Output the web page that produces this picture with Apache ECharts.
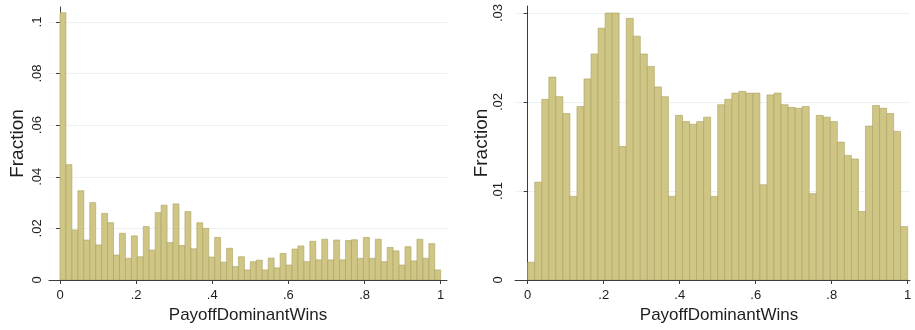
<!DOCTYPE html>
<html>
<head>
<meta charset="utf-8">
<script src="https://cdn.jsdelivr.net/npm/echarts@6/dist/echarts.min.js"></script>
<style>
html,body{margin:0;padding:0;background:#fff;}
#chart{width:915px;height:330px;}
</style>
</head>
<body>
<div id="chart"></div>
<script>
// Left histogram: 64 equal bins over [0,1]
const leftValues = [
  0.1036, 0.0447, 0.0194, 0.0346, 0.0155, 0.0300, 0.0136, 0.0258,
  0.0222, 0.0097, 0.0181, 0.0084, 0.0171, 0.0090, 0.0207, 0.0116,
  0.0261, 0.0290, 0.0145, 0.0295, 0.0134, 0.0265, 0.0121, 0.0222,
  0.0200, 0.0089, 0.0165, 0.0069, 0.0123, 0.0052, 0.0090, 0.0039,
  0.0071, 0.0077, 0.0039, 0.0085, 0.0047, 0.0103, 0.0058, 0.0120,
  0.0132, 0.0071, 0.0150, 0.0078, 0.0158, 0.0078, 0.0155, 0.0078,
  0.0153, 0.0156, 0.0084, 0.0165, 0.0084, 0.0158, 0.0071, 0.0126,
  0.0113, 0.0058, 0.0129, 0.0074, 0.0158, 0.0084, 0.0141, 0.0039
];
// Right histogram: 54 equal bins over [0,1]
const rightValues = [
  0.0020, 0.0110, 0.0203, 0.0228, 0.0206, 0.0187, 0.0094, 0.0195, 0.0226,
  0.0254, 0.0283, 0.0300, 0.0300, 0.0150, 0.0294, 0.0274, 0.0254, 0.0240,
  0.0217, 0.0206, 0.0094, 0.0185, 0.0178, 0.0175, 0.0178, 0.0183, 0.0094,
  0.0197, 0.0203, 0.0210, 0.0212, 0.0210, 0.0210, 0.0107, 0.0208, 0.0210,
  0.0197, 0.0194, 0.0193, 0.0195, 0.0097, 0.0185, 0.0183, 0.0178, 0.0155,
  0.0140, 0.0136, 0.0077, 0.0173, 0.0196, 0.0193, 0.0187, 0.0167, 0.0060
];
const binRange = [0, 1];
const xTickValues = [0, 0.2, 0.4, 0.6, 0.8, 1];
const xTickLabels = ['0', '.2', '.4', '.6', '.8', '1'];
const leftYTickValues = [0, 0.02, 0.04, 0.06, 0.08, 0.1];
const leftYTickLabels = ['0', '.02', '.04', '.06', '.08', '.1'];
const rightYTickValues = [0, 0.01, 0.02, 0.03];
const rightYTickLabels = ['0', '.01', '.02', '.03'];
const xTitle = 'PayoffDominantWins';
const yTitle = 'Fraction';

function bins(values) {
  const w = (binRange[1] - binRange[0]) / values.length;
  return values.map((v, i) => [binRange[0] + i * w, binRange[0] + (i + 1) * w, v]);
}
function fmt(values, labels) {
  return function (v) {
    for (let i = 0; i < values.length; i++) {
      if (Math.abs(values[i] - v) < 1e-9) return labels[i];
    }
    return '';
  };
}

const FONT = 'Liberation Sans, Arial, sans-serif';
const AXIS_COLOR = '#3c3c3c';
const TEXT_COLOR = '#1e1e1e';
const GRID_COLOR = '#eaf2f3';
const FILL = '#cfc686';
const STROKE = '#aaa160';

function renderBar(params, api) {
  const x0 = api.value(0), x1 = api.value(1), y = api.value(2);
  const p0 = api.coord([x0, y]);
  const p1 = api.coord([x1, 0]);
  return {
    type: 'rect',
    shape: { x: p0[0], y: p0[1], width: p1[0] - p0[0], height: p1[1] - p0[1] },
    style: { fill: FILL, stroke: STROKE, lineWidth: 0.6 }
  };
}

function xAxisOpt(gridIndex, min, max, namePadLeft) {
  return {
    type: 'value', gridIndex, min, max,
    name: xTitle, nameLocation: 'middle', nameGap: 27,
    nameTextStyle: { fontFamily: FONT, fontSize: 17, color: TEXT_COLOR, padding: [0, 0, 0, namePadLeft] },
    axisLine: { show: true, onZero: false, lineStyle: { color: AXIS_COLOR, width: 1 } },
    axisTick: { show: true, length: 4, customValues: xTickValues, lineStyle: { color: AXIS_COLOR } },
    axisLabel: { customValues: xTickValues, formatter: fmt(xTickValues, xTickLabels), margin: 9,
      fontFamily: FONT, fontSize: 13, color: TEXT_COLOR },
    splitLine: { show: false }
  };
}
function yAxisOpt(gridIndex, max, tv, tl, labelMargin, nameGap) {
  return {
    type: 'value', gridIndex, min: 0, max,
    name: yTitle, nameLocation: 'middle', nameGap,
    nameTextStyle: { fontFamily: FONT, fontSize: 19, color: TEXT_COLOR },
    axisLine: { show: true, lineStyle: { color: AXIS_COLOR, width: 1 } },
    axisTick: { show: true, length: 4, customValues: tv, lineStyle: { color: AXIS_COLOR } },
    axisLabel: { customValues: tv, formatter: fmt(tv, tl), rotate: 90, margin: labelMargin,
      fontFamily: FONT, fontSize: 13, color: TEXT_COLOR },
    splitLine: { show: true, lineStyle: { color: GRID_COLOR, width: 1.2 } }
  };
}

const chart = echarts.init(document.getElementById('chart'), null, { renderer: 'canvas' });
chart.setOption({
  backgroundColor: '#ffffff',
  animation: false,
  grid: [
    { left: 49, right: 468, top: 7, bottom: 50 },
    { left: 515, right: 5, top: 6, bottom: 50 }
  ],
  xAxis: [
    xAxisOpt(0, -0.0289, 1.0165, 0),
    xAxisOpt(1, -0.0334, 1.006, 13)
  ],
  yAxis: [
    yAxisOpt(0, 0.1058, leftYTickValues, leftYTickLabels, 5, 22),
    yAxisOpt(1, 0.03079, rightYTickValues, rightYTickLabels, 10, 24)
  ],
  series: [
    { type: 'custom', xAxisIndex: 0, yAxisIndex: 0, renderItem: renderBar,
      encode: { x: [0, 1], y: 2 }, data: bins(leftValues), clip: true },
    { type: 'custom', xAxisIndex: 1, yAxisIndex: 1, renderItem: renderBar,
      encode: { x: [0, 1], y: 2 }, data: bins(rightValues), clip: true }
  ]
});
</script>
</body>
</html>
